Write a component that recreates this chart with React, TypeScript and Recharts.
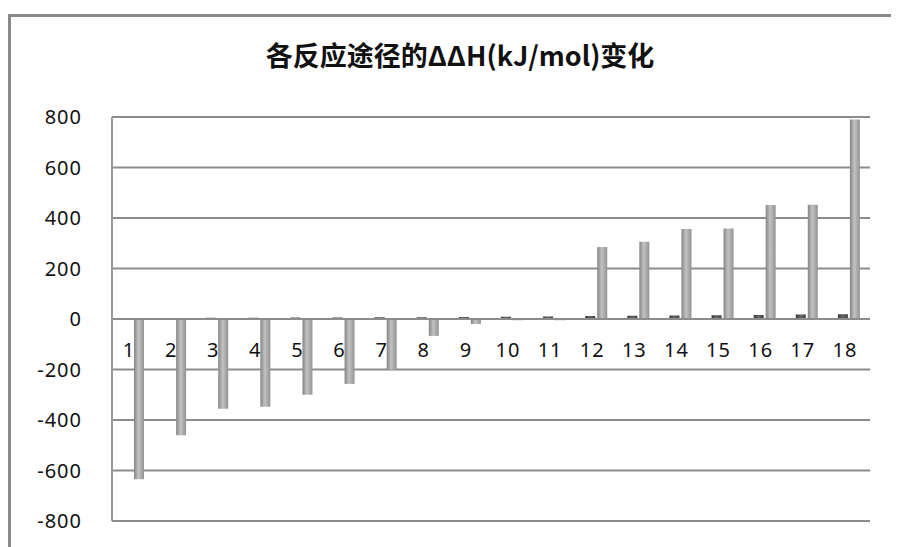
import React from 'react';
import { BarChart, Bar, XAxis, YAxis, CartesianGrid, ReferenceLine, LabelList } from 'recharts';

// 反应途径编号
const categories = ['1', '2', '3', '4', '5', '6', '7', '8', '9', '10', '11', '12', '13', '14', '15', '16', '17', '18'];
// 小的深色系列（接近 0）
const baseSeries = [4, 4, 5, 5, 6, 6, 7, 7, 8, 9, 10, 12, 13, 14, 15, 16, 18, 19];
// ΔΔH 主系列
const deltaSeries = [-635, -460, -355, -348, -300, -257, -200, -67, -20, -5, -5, 285, 306, 356, 358, 451, 452, 790];
const yTicks = [800, 600, 400, 200, 0, -200, -400, -600, -800];

const chartData = categories.map((name, i) => ({
  name,
  base: baseSeries[i],
  delta: deltaSeries[i]
}));

const CategoryLabel = (props: any) => {
  const { x, y, width, height, value } = props;
  const zeroY = y + height;
  return (
    <text
      x={x + width / 2 + 2}
      y={zeroY + 33}
      textAnchor="middle"
      dominantBaseline="middle"
      fill="#111"
      style={{ fontSize: '20px', fontFamily: '"Noto Sans", sans-serif', letterSpacing: '1px' }}
    >
      {value}
    </text>
  );
};

export default function App() {
  return (
    <div style={{ position: 'relative', width: 891, height: 539 }}>
      <div
        style={{
          position: 'absolute',
          left: 0,
          top: 6,
          width: 891,
          height: 540,
          borderLeft: '3px solid #8a8a8a',
          borderTop: '3px solid #8a8a8a'
        }}
      />
      <div
        style={{
          position: 'absolute',
          left: 0,
          width: 904,
          top: 30,
          textAlign: 'center',
          fontFamily: '"Noto Sans CJK SC", sans-serif',
          fontWeight: 'bold',
          fontSize: '27px',
          lineHeight: '34px',
          color: '#111'
        }}
      >
        各反应途径的ΔΔH(kJ/mol)变化
      </div>
      <div style={{ position: 'absolute', left: 0, top: 0 }}>
        <BarChart
          width={891}
          height={539}
          data={chartData}
          margin={{ top: 109, right: 29, bottom: 26, left: 0 }}
          barSize={10}
          barGap={2}
        >
          <defs>
            <linearGradient id="grayBar" x1="0" y1="0" x2="1" y2="0">
              <stop offset="0%" stopColor="#858585" />
              <stop offset="45%" stopColor="#c2c2c2" />
              <stop offset="100%" stopColor="#929292" />
            </linearGradient>
            <linearGradient id="darkBar" x1="0" y1="0" x2="1" y2="0">
              <stop offset="0%" stopColor="#3a3a3a" />
              <stop offset="50%" stopColor="#666" />
              <stop offset="100%" stopColor="#3f3f3f" />
            </linearGradient>
          </defs>
          <CartesianGrid vertical={false} stroke="#8c8c8c" strokeWidth={2} />
          <XAxis dataKey="name" hide />
          <YAxis
            type="number"
            domain={[-800, 800]}
            ticks={yTicks}
            width={104}
            tickSize={0}
            tickMargin={30}
            axisLine={{ stroke: '#999', strokeWidth: 2 }}
            tickLine={false}
            tick={{ fill: '#111', fontSize: 20, fontFamily: '"Noto Sans", sans-serif', letterSpacing: '1px' }}
            interval={0}
          />
          <ReferenceLine y={0} stroke="#8c8c8c" strokeWidth={2} />
          <Bar dataKey="base" fill="url(#darkBar)" isAnimationActive={false}>
            <LabelList dataKey="name" content={<CategoryLabel />} />
          </Bar>
          <Bar dataKey="delta" fill="url(#grayBar)" isAnimationActive={false} />
        </BarChart>
      </div>
    </div>
  );
}
